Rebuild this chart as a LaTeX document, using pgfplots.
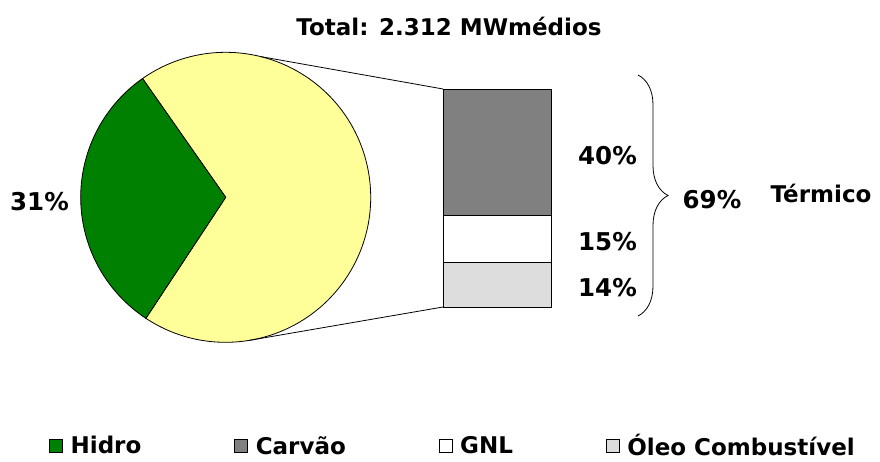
\documentclass[border=0pt]{standalone}
\usepackage{fontspec}
\setmainfont{DejaVu Sans}
\usepackage{pgfplots}
\pgfplotsset{compat=1.18}
\usetikzlibrary{decorations.pathreplacing}
\definecolor{hidro}{HTML}{008000}
\definecolor{term}{HTML}{FFFF99}
\definecolor{carvao}{HTML}{808080}
\definecolor{oleo}{HTML}{DDDDDD}
% shares (%)
\def\shHidro{31}
\def\shTerm{69}
\def\shCarvao{40}
\def\shGNL{15}
\def\shOleo{14}
\tikzset{pct/.style={font=\bfseries\fontsize{24.5}{28}\selectfont}}
\begin{document}
\begin{tikzpicture}[font=\bfseries\fontsize{23}{27}\selectfont]
\begin{axis}[anchor=south west, at={(0pt,0pt)}, width=880pt, height=458pt, scale only axis,
  xmin=0, xmax=880, ymin=0, ymax=458, hide axis, clip=false,
  legend columns=4,
  legend style={at={(453/880,12/458)}, anchor=center, draw=none, fill=none,
    font=\bfseries\fontsize{23}{26}\selectfont,
    /tikz/every even column/.append style={column sep=91pt}},
  legend image code/.code={\draw[line width=0.8pt,#1] (0pt,-6.5pt) rectangle (13pt,6.5pt); \path[draw=none,fill=none] (0pt,0pt) -- (19pt,0pt);}]
\addlegendimage{fill=hidro, draw=black}
\addlegendentry{Hidro}
\addlegendimage{fill=carvao, draw=black}
\addlegendentry{Carvão}
\addlegendimage{fill=white, draw=black}
\addlegendentry{GNL}
\addlegendimage{fill=oleo, draw=black}
\addlegendentry{Óleo Combustível}
\path (axis cs:0,0) rectangle (axis cs:880,458);
\pgfmathsetmacro{\aS}{125}
\pgfmathsetmacro{\aE}{125+\shHidro*3.6}
\pgfmathsetmacro{\aT}{125+360}
% pie
\filldraw[fill=term, draw=black, line width=0.8pt] (axis cs:225.7,260.7) -- ++(\aE:145pt) arc[start angle=\aE, end angle=\aT, radius=145pt] -- cycle;
\filldraw[fill=hidro, draw=black, line width=0.8pt] (axis cs:225.7,260.7) -- ++(\aS:145pt) arc[start angle=\aS, end angle=\aE, radius=145pt] -- cycle;
% connectors
\draw[line width=0.8pt] (axis cs:{225.7+145*cos(76)},{260.7+145*sin(76)}) -- (axis cs:443,369);
\draw[line width=0.8pt] (axis cs:{225.7+145*cos(-80.5)},{260.7+145*sin(-80.5)}) -- (axis cs:443,151);
% brace
\draw[line width=0.8pt, decorate, decoration={brace, amplitude=30pt}] (axis cs:638,383) -- (axis cs:638,142);
\node at (axis cs:449,432) {Total: 2.312 MWmédios};
\node[pct] at (axis cs:39.5,256) {\shHidro\%};
\node[pct] at (axis cs:712,258) {\shTerm\%};
\node at (axis cs:821,265) {Térmico};
\end{axis}
\begin{axis}[anchor=south west, at={(443pt,151pt)}, width=108pt, height=218pt, scale only axis,
  xmin=-0.5, xmax=0.5, ymin=0, ymax=69, hide axis, clip=false, ybar stacked, bar width=108pt]
\addplot[fill=oleo, draw=black, line width=0.8pt] coordinates {(0,\shOleo)};
\addplot[fill=white, draw=black, line width=0.8pt] coordinates {(0,\shGNL)};
\addplot[fill=carvao, draw=black, line width=0.8pt] coordinates {(0,\shCarvao)};
\node[pct, xshift=110.5pt, yshift=-3pt] at (axis cs:0,{\shOleo/2}) {\shOleo\%};
\node[pct, xshift=110.5pt, yshift=-3pt] at (axis cs:0,{\shOleo+\shGNL/2}) {\shGNL\%};
\node[pct, xshift=110.5pt, yshift=-3pt] at (axis cs:0,{\shOleo+\shGNL+\shCarvao/2}) {\shCarvao\%};
\end{axis}
\end{tikzpicture}
\end{document}
